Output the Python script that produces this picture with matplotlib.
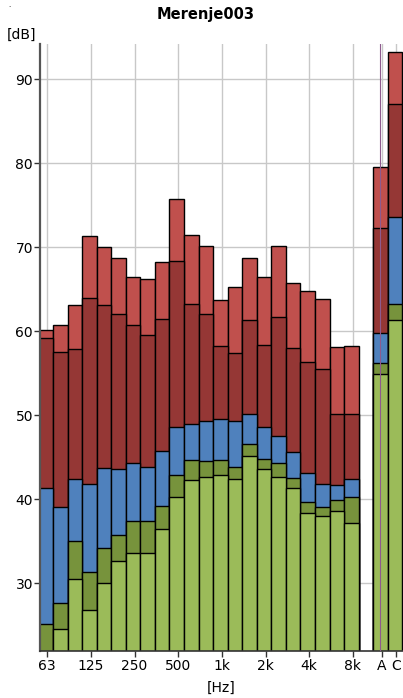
import matplotlib
matplotlib.use("Agg")
import matplotlib.pyplot as plt
import numpy as np

bands = ["63", "80", "100", "125", "160", "200", "250", "315", "400", "500", "630", "800",
         "1k", "1.25k", "1.6k", "2k", "2.5k", "3.15k", "4k", "5k", "6.3k", "8k", "A", "C"]

# layer values (dB), from highest to lowest
light_red = [60.2, 60.7, 63.1, 71.4, 70.0, 68.7, 66.5, 66.2, 68.2, 75.7, 71.5, 70.2,
             63.7, 65.3, 68.7, 66.5, 70.2, 65.7, 64.8, 63.9, 58.1, 58.3, 79.5, 93.2]
dark_red = [59.2, 57.5, 57.9, 64.0, 63.1, 62.0, 60.7, 59.5, 61.5, 68.4, 63.2, 62.1,
            58.3, 57.4, 61.3, 58.4, 61.7, 58.0, 56.4, 55.5, 50.1, 50.2, 72.3, 87.1]
blue = [41.3, 39.1, 42.4, 41.8, 43.7, 43.6, 44.3, 43.8, 45.8, 48.6, 49.0, 49.3,
        49.6, 49.3, 50.1, 48.6, 47.5, 45.6, 43.1, 41.8, 41.7, 42.4, 59.8, 73.6]
dark_green = [25.1, 27.6, 35.0, 31.4, 34.2, 35.7, 37.4, 37.4, 39.2, 42.9, 44.7, 44.5,
              44.7, 43.9, 46.6, 44.8, 44.3, 42.5, 39.7, 39.1, 39.9, 40.3, 56.2, 63.2]
light_green = [21.5, 24.5, 30.5, 26.8, 30.0, 32.7, 33.6, 33.6, 36.5, 40.3, 42.3, 42.7,
               42.9, 42.4, 45.2, 43.6, 42.6, 41.3, 38.4, 38.0, 38.6, 37.2, 54.9, 61.4]

tick_labels = ["63", "125", "250", "500", "1k", "2k", "4k", "8k", "A", "C"]
tick_bands = ["63", "125", "250", "500", "1k", "2k", "4k", "8k", "A", "C"]
y_ticks = [30, 40, 50, 60, 70, 80, 90]

colors = ["#C0504D", "#953735", "#4F81BD", "#77933C", "#9BBB59"]
layers = [light_red, dark_red, blue, dark_green, light_green]

fig = plt.figure(figsize=(4.03, 6.98), dpi=100)
ax = fig.add_axes([40 / 403, 47.5 / 698, 1 - 40 / 403, (650.5 - 44) / 698])

# positions: 22 third-octave bands, then gap, then A and C
pos = {}
for i, b in enumerate(bands[:22]):
    pos[b] = i
pos["A"] = 23
pos["C"] = 24
x = np.array([pos[b] for b in bands], dtype=float)

for vals, col in zip(layers, colors):
    ax.bar(x - 0.1, vals, width=1.0, bottom=0, color=col, edgecolor="black",
           linewidth=1.0, zorder=2)

ax.set_xlim(-0.5, 24.45)
ax.set_ylim(22, 94.2)

ax.set_yticks(y_ticks)
ax.set_xticks([pos[b] for b in tick_bands])
ax.set_xticklabels(tick_labels)
ax.tick_params(axis="both", labelsize=10, length=4, width=1, color="#333333", direction="out")
ax.tick_params(axis="y", pad=1)
ax.tick_params(axis="x", pad=2)

ax.grid(True, color="#C8C8C8", linewidth=1.0, zorder=0)
ax.set_axisbelow(True)
for s in ["top", "right"]:
    ax.spines[s].set_visible(False)
ax.spines["left"].set_color("#555555")
ax.spines["left"].set_linewidth(1.6)
ax.spines["bottom"].set_color("#333333")
ax.spines["bottom"].set_linewidth(1.2)

# purple marker line at A
ax.axvline(pos["A"] - 0.1 + 0.0, color="#8E5A8E", linewidth=0.8, zorder=5)

fig.text(206 / 403, 1 - 15 / 698, "Merenje003", ha="center", va="center",
         fontsize=10.5, fontweight="bold")
fig.text(22 / 403, 1 - 35 / 698, "[dB]", ha="center", va="center", fontsize=10)
fig.text(221 / 403, 1 - 688 / 698, "[Hz]", ha="center", va="center", fontsize=10)
fig.text(9 / 403, 1 - 5 / 698, ".", ha="center", va="center", fontsize=5)

fig.savefig("out.png", dpi=100)
